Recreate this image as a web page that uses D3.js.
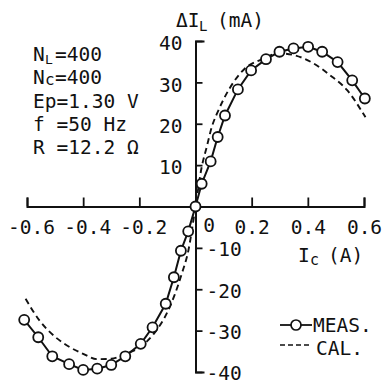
<!DOCTYPE html>
<html><head><meta charset="utf-8">
<script src="https://cdn.jsdelivr.net/npm/d3@7"></script>
<style>
html,body{margin:0;padding:0;background:#fff;}
svg{display:block;}
text{font-family:"DejaVu Sans Mono",monospace;fill:#111;}
</style></head>
<body>
<svg id="c" width="384" height="388"></svg>
<script>
// ---- data ----
const measX = [-0.61,-0.56,-0.51,-0.45,-0.40,-0.35,-0.30,-0.25,-0.195,-0.153,-0.106,-0.077,-0.052,-0.026,0,0.022,0.054,0.079,0.105,0.151,0.198,0.251,0.299,0.349,0.401,0.451,0.506,0.558,0.603];
const measY = [-27.4,-31.6,-36.2,-38.1,-39.5,-39.2,-38.3,-36.2,-33.2,-29.2,-23.5,-17.1,-10.7,-6.0,0,5.5,10.9,16.8,22.0,28.3,32.9,35.6,37.4,38.2,38.6,37.4,34.9,30.5,26.1];
const calX = [-0.605,-0.555,-0.5,-0.45,-0.4,-0.35,-0.3,-0.25,-0.2,-0.15,-0.1,-0.075,-0.05,-0.025,0,0.022,0.04,0.058,0.08,0.1,0.135,0.175,0.23,0.3,0.35,0.42,0.48,0.54,0.605];
const calY = [-22.3,-27.6,-31.5,-33.9,-35.6,-36.9,-36.8,-35.6,-34.1,-30.9,-25.5,-21.5,-16.5,-10.5,0,9.5,14.4,19.2,23.0,25.9,30.0,33.3,35.4,37.0,36.6,34.6,31.7,28.1,21.6];
const xTicks = [-0.6,-0.4,-0.2,0,0.2,0.4,0.6];
const xTickLabels = ["-0.6","-0.4","-0.2","0","0.2","0.4","0.6"];
const yTicks = [-40,-30,-20,-10,10,20,30,40];
const yTickLabels = ["-40","-30","-20","-10","10","20","30","40"];
const paramLines = [
  ["N","L","=400"],
  ["N","c","=400"],
  ["Ep=1.30 V","",""],
  ["f =50 Hz","",""],
  ["R =12.2 Ω","",""]
];
const legendLabels = ["MEAS.","CAL."];

// ---- chart ----
const svg = d3.select("#c");
const x = d3.scaleLinear().domain([-0.6,0.6]).range([27,364]);
const y = d3.scaleLinear().domain([-40,40]).range([372,41]);
const FS = 19.5;

// x axis
const xa = svg.append("g").attr("transform",`translate(0,${y(0)})`)
  .call(d3.axisBottom(x).tickValues(xTicks).tickSizeInner(-9).tickSizeOuter(-9).tickPadding(12)
    .tickFormat((d,i)=>xTickLabels[i]));
xa.select(".domain").attr("stroke","#111").attr("stroke-width",2);
xa.selectAll(".tick line").attr("stroke","#111").attr("stroke-width",1.8)
  .attr("display",d=>d===0?"none":null);
xa.selectAll(".tick text").attr("font-size",FS).attr("fill","#111")
  .attr("font-family","DejaVu Sans Mono")
  .attr("dx",d=>d===0?13:(d<0?4:0)).attr("dy",0)
  .attr("y",d=>d===0?25:27);

// y axis
const ya = svg.append("g").attr("transform",`translate(${x(0)},0)`)
  .call(d3.axisRight(y).tickValues(yTicks).tickSizeInner(7).tickSizeOuter(9).tickPadding(11)
    .tickFormat((d,i)=>yTickLabels[i]));
ya.select(".domain").attr("stroke","#111").attr("stroke-width",2);
ya.selectAll(".tick line").attr("stroke","#111").attr("stroke-width",1.8);
ya.selectAll(".tick text").attr("font-size",FS).attr("fill","#111")
  .attr("font-family","DejaVu Sans Mono")
  .attr("x",d=>d>0?-13:11).attr("text-anchor",d=>d>0?"end":"start")
  .attr("dy",d=>d>0?"0.45em":"0.4em");

// calc dashed curve
const calData = calX.map((v,i)=>[v,calY[i]]);
svg.append("path").datum(calData)
  .attr("d",d3.line().x(d=>x(d[0])).y(d=>y(d[1])).curve(d3.curveMonotoneX))
  .attr("fill","none").attr("stroke","#111").attr("stroke-width",1.9).attr("stroke-dasharray","6,4");

// measured
const measData = measX.map((v,i)=>[v,measY[i]]);
svg.append("path").datum(measData)
  .attr("d",d3.line().x(d=>x(d[0])).y(d=>y(d[1])))
  .attr("fill","none").attr("stroke","#111").attr("stroke-width",2);
svg.append("g").selectAll("circle").data(measData).join("circle")
  .attr("cx",d=>x(d[0])).attr("cy",d=>y(d[1])).attr("r",5)
  .attr("fill","#fff").attr("stroke","#111").attr("stroke-width",1.8);

// axis titles
svg.append("text").attr("x",176).attr("y",27).attr("font-size",FS).text("ΔI");
svg.append("text").attr("x",199).attr("y",31).attr("font-size",14).text("L");
svg.append("text").attr("x",217).attr("y",27).attr("font-size",FS).text("(mA)");
svg.append("text").attr("x",298).attr("y",262).attr("font-size",FS).text("I");
svg.append("text").attr("x",310).attr("y",265).attr("font-size",15).text("c");
svg.append("text").attr("x",328).attr("y",262).attr("font-size",FS).text("(A)");

// parameter text
const baseY = [61,84,108,131,154];
paramLines.forEach((ln,i)=>{
  if(ln[1]){
    svg.append("text").attr("x",33).attr("y",baseY[i]).attr("font-size",FS).text(ln[0]);
    svg.append("text").attr("x",45).attr("y",baseY[i]+(i===0?3:1)).attr("font-size",i===0?13:16).text(ln[1]);
    svg.append("text").attr("x",55).attr("y",baseY[i]).attr("font-size",FS).text(ln[2]);
  } else {
    svg.append("text").attr("x",33).attr("y",baseY[i]).attr("font-size",FS).text(ln[0]);
  }
});

// legend
const lg = svg.append("g");
lg.append("line").attr("x1",280).attr("x2",312).attr("y1",325).attr("y2",325)
  .attr("stroke","#111").attr("stroke-width",1.8);
lg.append("circle").attr("cx",296).attr("cy",325).attr("r",5)
  .attr("fill","#fff").attr("stroke","#111").attr("stroke-width",1.7);
lg.append("text").attr("x",313).attr("y",332).attr("font-size",FS).text(legendLabels[0]);
lg.append("line").attr("x1",280).attr("x2",312).attr("y1",345).attr("y2",345)
  .attr("stroke","#111").attr("stroke-width",1.6).attr("stroke-dasharray","5,3");
lg.append("text").attr("x",316).attr("y",355).attr("font-size",FS).text(legendLabels[1]);
</script>
</body></html>
